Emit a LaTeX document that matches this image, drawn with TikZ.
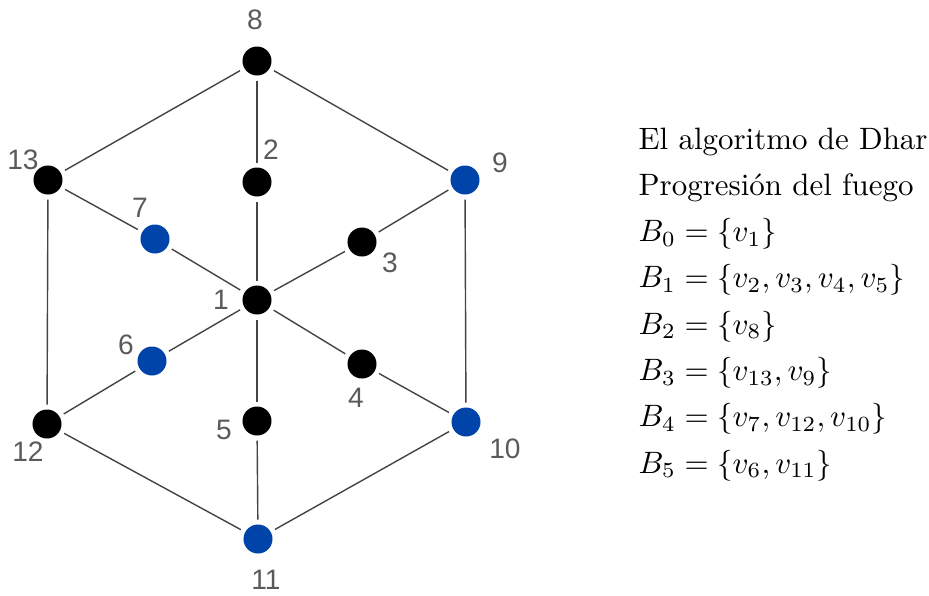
\documentclass[tikz,border=0pt]{standalone}
\usepackage{fontspec}
\newfontfamily\labelfont{Liberation Sans}
\usepackage{amsmath}
\usetikzlibrary{positioning}
\definecolor{fireblue}{RGB}{0,68,170}
\definecolor{labelgray}{RGB}{90,90,90}
\definecolor{edgegray}{RGB}{68,68,68}
\tikzset{
  vertex/.style={circle,fill=black,minimum size=0.725cm,inner sep=0pt,outer sep=0.125cm},
  vertexblue/.style={vertex,fill=fireblue},
  edge/.style={draw=edgegray,line width=1pt},
  vlabel/.style={inner sep=0pt,text=labelgray,font=\labelfont\fontsize{20}{24}\selectfont}
}
\begin{document}
\begin{tikzpicture}[x=0.025cm,y=-0.025cm,
  textline/.style={anchor=base west,inner sep=0pt,font=\fontsize{10}{12}\selectfont}
]
  \useasboundingbox (0,0) rectangle (929,595);
  \foreach \n/\x/\y/\s in {1/257/300/vertex,2/257/182/vertex,3/362/242/vertex,
      4/362/364/vertex,5/257/421/vertex,6/152/361/vertexblue,7/155/239/vertexblue,
      8/257/61/vertex,9/465/180/vertexblue,10/466/422/vertexblue,
      11/258/539/vertexblue,12/47/424/vertex,13/48/180/vertex} {
    \node[\s] (v\n) at (\x,\y) {};
  }
  \foreach \n/\x/\y in {1/221/300,2/271/150,3/390/263,4/356/398,5/224/430,
      6/126/345,7/140/208,8/255/20,9/500/163,10/505/449,11/266/580,
      12/28/452,13/23/160} {
    \node[vlabel] (l\n) at (\x,\y) {\n};
  }
  \foreach \a/\b in {8/13,8/9,8/2,2/1,13/7,7/1,13/12,9/3,3/1,9/10,
      1/6,6/12,1/4,4/10,1/5,5/11,12/11,10/11} {
    \draw[edge] (v\a) -- (v\b);
  }
  \begin{scope}[shift={(638,149)},scale=2.2,transform shape]
    \node[textline] (title) at (0,0) {El algoritmo de Dhar};
    \node[textline] (subtitle) at (0,21.05) {Progresión del fuego};
    \node[textline] (b0) at (0,42.1) {$B_0=\{v_1\}$};
    \node[textline] (b1) at (0,63.15) {$B_1=\{v_2,v_3,v_4,v_5\}$};
    \node[textline] (b2) at (0,84.2) {$B_2=\{v_8\}$};
    \node[textline] (b3) at (0,105.25) {$B_3=\{v_{13},v_9\}$};
    \node[textline] (b4) at (0,126.3) {$B_4=\{v_7,v_{12},v_{10}\}$};
    \node[textline] (b5) at (0,147.35) {$B_5=\{v_6,v_{11}\}$};
  \end{scope}
\end{tikzpicture}
\end{document}
